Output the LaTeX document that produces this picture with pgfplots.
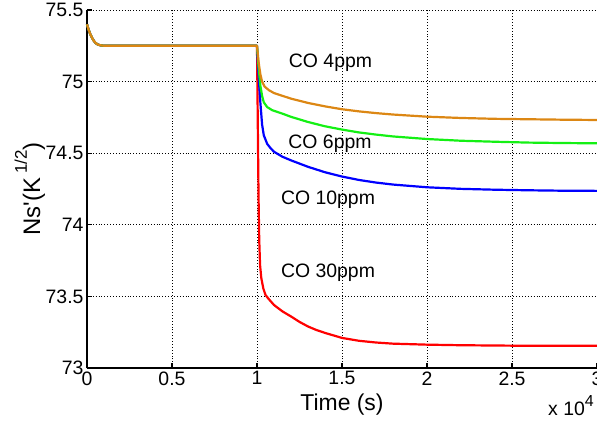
\documentclass[border=0pt]{standalone}
\usepackage{pgfplots}
\pgfplotsset{compat=1.18}
\usepackage{fontspec}
\setmainfont{Liberation Sans}
\definecolor{corange}{RGB}{220,135,20}
\definecolor{cgreen}{RGB}{20,240,20}
\definecolor{cblue}{RGB}{0,0,255}
\definecolor{cred}{RGB}{255,0,0}
\newcommand{\tickfont}{\fontsize{19.5}{20}\selectfont}
\begin{document}
\begin{tikzpicture}
\begin{axis}[
  at={(0,0)}, anchor=south west,
  scale only axis, width=510bp, height=358bp,
  xmin=0, xmax=30000, ymin=73, ymax=75.5,
  axis x line*=bottom, axis y line*=left,
  axis line style={black, line width=1.8bp, -},
  xtick={0,5000,10000,15000,20000,25000,30000},
  xticklabels={0,0.5,1,1.5,2,2.5,3},
  scaled x ticks=false,
  ytick={73,73.5,74,74.5,75,75.5},
  yticklabels={73,73.5,74,74.5,75,75.5},
  tick align=inside, major tick length=5bp,
  tick style={black, line width=1.2bp},
  grid=major,
  major grid style={black, line width=0.9bp, dash pattern=on 0.9bp off 2bp},
  ticklabel style={font=\tickfont},
  /pgf/number format/assume math mode=true,
  xlabel={Time (s)},
  xlabel style={font=\fontsize{23}{24}\selectfont, at={(axis description cs:0.5,0)}, anchor=base, yshift=-42bp},
  ylabel={Ns\textquotesingle(K\,\raisebox{0.55em}{\fontsize{17}{17}\selectfont 1/2})},
  ylabel style={font=\fontsize{24}{25}\selectfont, at={(axis description cs:-0.112,0.5)}, anchor=center, rotate=0},
  clip=false,
  every axis plot/.append style={line width=2.2bp, line join=round},
]
\addplot[cred] coordinates {(0,75.40)(100,75.36)(200,75.33)(300,75.305)(400,75.285)(500,75.27)(650,75.258)(850,75.252)(1100,75.25)
(10000,75.25)(10030,74.9)(10060,74.55)(10090,74.2)(10130,73.9)(10180,73.72)(10250,73.63)(10370,73.556)(10500,73.51)(10700,73.48)(11000,73.44)(11500,73.395)(12000,73.36)(12500,73.322)(13000,73.29)(13500,73.265)(14000,73.245)(15000,73.21)(16000,73.19)(17000,73.178)(18000,73.17)(20000,73.163)(22000,73.159)(25000,73.156)(30000,73.155)};
\addplot[cblue] coordinates {(0,75.40)(100,75.36)(200,75.33)(300,75.305)(400,75.285)(500,75.27)(650,75.258)(850,75.252)(1100,75.25)
(10000,75.25)(10050,75.13)(10100,75.03)(10200,74.85)(10300,74.70)(10400,74.625)(10600,74.565)(10800,74.535)(11000,74.51)(11500,74.475)(12000,74.45)(13000,74.405)(14000,74.367)(15000,74.337)(16000,74.313)(17000,74.295)(18000,74.281)(20000,74.262)(22000,74.251)(24000,74.245)(26000,74.241)(28000,74.238)(30000,74.237)};
\addplot[cgreen] coordinates {(0,75.40)(100,75.36)(200,75.33)(300,75.305)(400,75.285)(500,75.27)(650,75.258)(850,75.252)(1100,75.25)
(10000,75.25)(10050,75.17)(10100,75.09)(10200,74.97)(10300,74.90)(10400,74.855)(10600,74.822)(10900,74.80)(11500,74.776)(12000,74.754)(13000,74.718)(14000,74.688)(15000,74.665)(16000,74.645)(17000,74.630)(18000,74.617)(20000,74.599)(22000,74.587)(24000,74.580)(26000,74.574)(28000,74.571)(30000,74.569)};
\addplot[corange] coordinates {(0,75.40)(100,75.36)(200,75.33)(300,75.305)(400,75.285)(500,75.27)(650,75.258)(850,75.252)(1100,75.25)
(10000,75.25)(10100,75.13)(10200,75.05)(10300,75.00)(10450,74.965)(10700,74.94)(11000,74.92)(12000,74.881)(13000,74.851)(14000,74.827)(15000,74.807)(16000,74.792)(17000,74.78)(18000,74.77)(20000,74.755)(22000,74.746)(24000,74.74)(26000,74.737)(28000,74.734)(30000,74.732)};
\node[font=\tickfont] at (axis cs:14324,75.133) {CO 4ppm};
\node[font=\tickfont] at (axis cs:14294,74.568) {CO 6ppm};
\node[font=\tickfont] at (axis cs:14176,74.177) {CO 10ppm};
\node[font=\tickfont] at (axis cs:14176,73.667) {CO 30ppm};
\end{axis}
\node[anchor=base west, font=\tickfont, inner sep=0pt] at (461bp,-47bp) {x 10\raisebox{0.45em}{\fontsize{16}{16}\selectfont 4}};
\pgfresetboundingbox
\path[use as bounding box] (-87bp,-55bp) rectangle (510bp,368bp);
\end{tikzpicture}
\end{document}
